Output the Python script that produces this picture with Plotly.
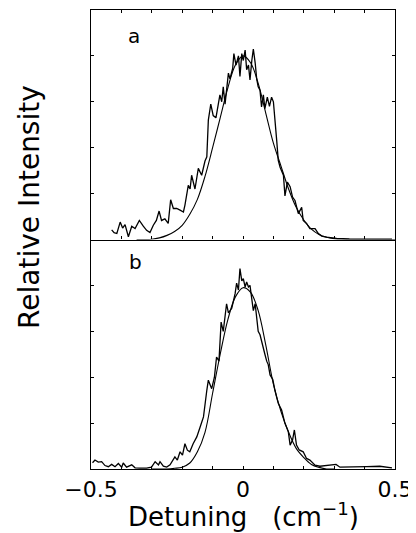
import plotly.graph_objects as go
from plotly.subplots import make_subplots

# ---------------- data ----------------
detuning_a = [-0.432, -0.424, -0.415, -0.404, -0.396, -0.388, -0.377, -0.366, -0.355, -0.341,
              -0.328, -0.317, -0.306, -0.295, -0.285, -0.276, -0.268, -0.257, -0.246, -0.238,
              -0.229, -0.218, -0.207, -0.196, -0.191, -0.180, -0.174, -0.169, -0.158, -0.147,
              -0.136, -0.125, -0.119, -0.114, -0.106, -0.098, -0.089, -0.081, -0.076, -0.070,
              -0.065, -0.059, -0.054, -0.048, -0.043, -0.034, -0.030, -0.023, -0.015, -0.010,
              -0.004, 0.001, 0.007, 0.012, 0.018, 0.023, 0.029, 0.034, 0.040, 0.045,
              0.050, 0.056, 0.061, 0.067, 0.072, 0.080, 0.087, 0.094, 0.100, 0.105,
              0.111, 0.116, 0.122, 0.133, 0.138, 0.146, 0.155, 0.163, 0.171, 0.182,
              0.193, 0.198, 0.209, 0.220, 0.237, 0.248, 0.259, 0.275, 0.308, 0.350,
              0.400, 0.450, 0.490]
intensity_a = [0.042, 0.030, 0.026, 0.076, 0.050, 0.065, 0.012, 0.058, 0.048, 0.083,
               0.058, 0.040, 0.030, 0.062, 0.083, 0.124, 0.083, 0.090, 0.070, 0.173,
               0.135, 0.135, 0.128, 0.120, 0.150, 0.236, 0.220, 0.280, 0.220, 0.310,
               0.280, 0.342, 0.360, 0.520, 0.590, 0.540, 0.530, 0.585, 0.630, 0.600,
               0.665, 0.590, 0.650, 0.725, 0.700, 0.745, 0.810, 0.760, 0.800, 0.710,
               0.810, 0.780, 0.825, 0.740, 0.760, 0.695, 0.780, 0.830, 0.770, 0.700,
               0.665, 0.650, 0.578, 0.630, 0.570, 0.620, 0.580, 0.620, 0.600, 0.534,
               0.430, 0.345, 0.315, 0.280, 0.190, 0.250, 0.230, 0.185, 0.170, 0.113,
               0.140, 0.083, 0.070, 0.047, 0.047, 0.026, 0.015, 0.010, 0.005, 0.003,
               0.002, 0.004, 0.002]

fit_x_a = [-0.350, -0.325, -0.300, -0.275, -0.250, -0.225, -0.200, -0.175, -0.150, -0.125,
           -0.100, -0.075, -0.050, -0.025, 0.000, 0.025, 0.050, 0.075, 0.100, 0.125,
           0.150, 0.175, 0.200, 0.225, 0.250, 0.275, 0.300, 0.325, 0.350, 0.400,
           0.450, 0.500]
fit_y_a = [0.000, 0.000, 0.001, 0.007, 0.018, 0.035, 0.062, 0.110, 0.175, 0.275,
           0.400, 0.530, 0.660, 0.760, 0.800, 0.770, 0.680, 0.550, 0.420, 0.320,
           0.220, 0.140, 0.085, 0.045, 0.022, 0.010, 0.004, 0.001, 0.000, 0.000,
           0.000, 0.000]

detuning_b = [-0.495, -0.487, -0.476, -0.465, -0.454, -0.443, -0.432, -0.421, -0.410, -0.399,
              -0.394, -0.383, -0.366, -0.355, -0.339, -0.317, -0.301, -0.289, -0.278, -0.273,
              -0.262, -0.251, -0.240, -0.229, -0.224, -0.216, -0.207, -0.199, -0.191, -0.183,
              -0.175, -0.164, -0.152, -0.141, -0.130, -0.119, -0.114, -0.103, -0.094, -0.087,
              -0.079, -0.072, -0.065, -0.054, -0.048, -0.037, -0.026, -0.021, -0.015, -0.010,
              -0.004, 0.001, 0.007, 0.012, 0.018, 0.023, 0.029, 0.034, 0.040, 0.045,
              0.050, 0.056, 0.061, 0.067, 0.072, 0.078, 0.083, 0.089, 0.098, 0.105,
              0.116, 0.127, 0.138, 0.149, 0.155, 0.163, 0.169, 0.176, 0.185, 0.198,
              0.209, 0.220, 0.237, 0.253, 0.275, 0.306, 0.319, 0.363, 0.407, 0.450,
              0.490]
intensity_b = [0.027, 0.039, 0.030, 0.032, 0.015, 0.010, 0.020, 0.010, 0.024, 0.008,
               0.026, 0.008, 0.018, 0.005, 0.004, 0.004, 0.008, 0.032, 0.018, 0.032,
               0.012, 0.008, 0.018, 0.039, 0.053, 0.039, 0.075, 0.060, 0.110, 0.082,
               0.075, 0.110, 0.140, 0.183, 0.227, 0.343, 0.387, 0.350, 0.400, 0.488,
               0.470, 0.640, 0.600, 0.720, 0.680, 0.700, 0.764, 0.810, 0.780, 0.873,
               0.820, 0.830, 0.793, 0.815, 0.793, 0.800, 0.750, 0.690, 0.720, 0.670,
               0.600, 0.585, 0.555, 0.530, 0.500, 0.470, 0.455, 0.410, 0.390, 0.343,
               0.286, 0.257, 0.199, 0.163, 0.104, 0.126, 0.170, 0.104, 0.083, 0.075,
               0.046, 0.039, 0.017, 0.012, 0.015, 0.020, 0.008, 0.008, 0.010, 0.012,
               0.005]

fit_x_b = [-0.300, -0.275, -0.250, -0.225, -0.200, -0.175, -0.150, -0.125, -0.100, -0.075,
           -0.050, -0.025, 0.000, 0.025, 0.050, 0.075, 0.100, 0.125, 0.150, 0.175,
           0.200, 0.225, 0.250, 0.275, 0.300]
fit_y_b = [0.000, 0.000, 0.000, 0.003, 0.008, 0.026, 0.075, 0.160, 0.330, 0.500,
           0.650, 0.750, 0.790, 0.770, 0.690, 0.540, 0.370, 0.250, 0.160, 0.090,
           0.050, 0.020, 0.007, 0.000, 0.000]

x_tick_vals = [-0.5, -0.4, -0.3, -0.2, -0.1, 0.0, 0.1, 0.2, 0.3, 0.4, 0.5]
x_tick_text = ["\u22120.5", "", "", "", "", "0", "", "", "", "", "0.5"]
y_tick_vals = [0.0, 0.2, 0.4, 0.6, 0.8, 1.0]
panel_labels = ["a", "b"]

# ---------------- figure ----------------
FONT = "DejaVu Sans"
fig = make_subplots(rows=2, cols=1, shared_xaxes=True, vertical_spacing=0)

line_data = dict(color="black", width=1.3)
line_fit = dict(color="black", width=1.1)

fig.add_trace(go.Scatter(x=detuning_a, y=intensity_a, mode="lines", line=line_data), row=1, col=1)
fig.add_trace(go.Scatter(x=fit_x_a, y=fit_y_a, mode="lines", line=line_fit, line_shape="spline"), row=1, col=1)
fig.add_trace(go.Scatter(x=detuning_b, y=intensity_b, mode="lines", line=line_data), row=2, col=1)
fig.add_trace(go.Scatter(x=fit_x_b, y=fit_y_b, mode="lines", line=line_fit, line_shape="spline"), row=2, col=1)

axis_common = dict(showline=True, linecolor="black", linewidth=1.4,
                   ticks="inside", ticklen=3, tickwidth=1, tickcolor="black",
                   showgrid=False, zeroline=False)

# top panel x axis: line + ticks on both edges (bottom edge is the shared divider)
fig.update_xaxes(range=[-0.5, 0.5], tickvals=x_tick_vals, ticktext=x_tick_text,
                 showticklabels=False, mirror="ticks", row=1, col=1, **axis_common)
# bottom panel x axis: only bottom line (avoid doubling the divider)
fig.update_xaxes(range=[-0.5, 0.5], tickvals=x_tick_vals, ticktext=x_tick_text,
                 showticklabels=True, mirror=False, ticklabeloverflow="allow",
                 tickfont=dict(family=FONT, size=22, color="black"),
                 row=2, col=1, **axis_common)
for r in (1, 2):
    fig.update_yaxes(range=[0, 1], tickvals=y_tick_vals, showticklabels=False,
                     mirror="ticks", row=r, col=1, **axis_common)

fig.update_layout(
    width=408, height=525,
    margin=dict(l=83, r=21, t=2, b=64),
    paper_bgcolor="white", plot_bgcolor="white",
    showlegend=False,
    font=dict(family=FONT, color="black"),
)
fig.update_yaxes(domain=[0.5, 1.0], row=1, col=1)
fig.update_yaxes(domain=[0.0, 0.5], row=2, col=1)

# panel letters
fig.add_annotation(x=-0.359, y=0.885, xref="x", yref="y", text=panel_labels[0], showarrow=False,
                   font=dict(family=FONT, size=20, color="black"))
fig.add_annotation(x=-0.352, y=0.90, xref="x2", yref="y2", text=panel_labels[1], showarrow=False,
                   font=dict(family=FONT, size=20, color="black"))

# axis titles
fig.add_annotation(x=-0.2007, y=0.571, xref="paper", yref="paper", text="Relative Intensity",
                   textangle=-90, showarrow=False, xanchor="center", yanchor="middle",
                   font=dict(family=FONT, size=28, color="black"))
fig.add_annotation(x=0.503, y=-0.10, xref="paper", yref="paper",
                   text="Detuning\u00a0\u00a0\u00a0(cm<sup>\u22121</sup>)",
                   showarrow=False, xanchor="center", yanchor="middle",
                   font=dict(family=FONT, size=26, color="black"))

fig.write_html("out.html")
